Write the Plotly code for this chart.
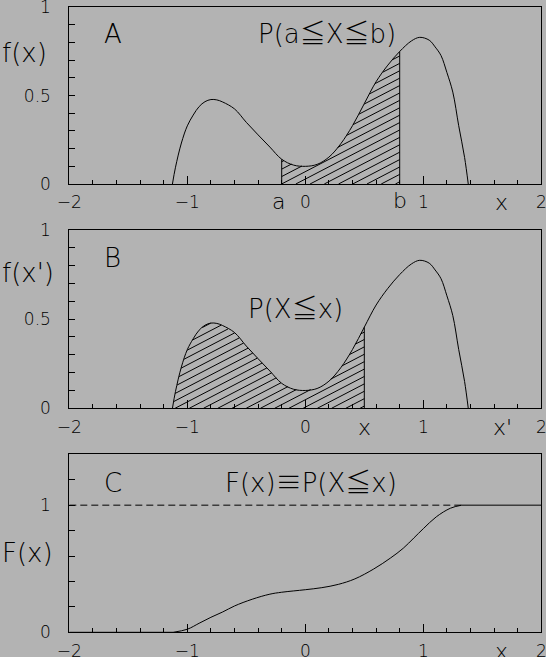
import numpy as np
import plotly.graph_objects as go

# ---------------- data ----------------
# probability density f(x) (panels A and B)
x_pdf = [-1.126, -1.1, -1.05, -1.0, -0.95, -0.9, -0.85, -0.8, -0.75, -0.7,
         -0.6, -0.5, -0.4, -0.3, -0.2, -0.1, 0.0, 0.1, 0.2, 0.3, 0.4, 0.5,
         0.6, 0.7, 0.8, 0.9, 0.97, 1.05, 1.1, 1.15, 1.2, 1.25, 1.3, 1.35, 1.381]
f_pdf = [0.0, 0.095, 0.232, 0.329, 0.390, 0.438, 0.466, 0.478, 0.476, 0.464,
         0.425, 0.349, 0.278, 0.209, 0.140, 0.107, 0.100, 0.111, 0.152, 0.227,
         0.330, 0.455, 0.579, 0.673, 0.750, 0.810, 0.830, 0.814, 0.776, 0.727,
         0.631, 0.520, 0.330, 0.150, 0.0]

# cumulative distribution F(x) (panel C)
x_cdf = [-1.12, -1.0, -0.9, -0.8, -0.7, -0.6, -0.45, -0.3, -0.2, 0.0, 0.14,
         0.28, 0.42, 0.58, 0.72, 0.83, 0.92, 1.0, 1.11, 1.23, 1.325]
F_cdf = [0.0, 0.024, 0.071, 0.118, 0.160, 0.207, 0.260, 0.300, 0.315, 0.335,
         0.351, 0.377, 0.420, 0.498, 0.583, 0.661, 0.742, 0.815, 0.908, 0.976, 1.0]

a_val, b_val = -0.2, 0.8      # limits of P(a<=X<=b)
x_cut = 0.5                   # upper limit of P(X<=x)
x_range = [-2, 2]

x_ticks = [-2, -1, 0, 1, 2]
y_ticks_ab = [0, 0.5, 1]
y_ticks_c = [0, 1]

# ---------------- layout geometry (pixels) ----------------
W, H = 546, 657
BG = "#b3b3b3"
X_L, X_R = 69.3, 541.3
PANELS = {"A": (7.3, 184.0), "B": (230.0, 408.3), "C": (454.3, 632.3)}
Y_RANGES = {"A": [0, 1], "B": [0, 1], "C": [0, 1.4]}
FONT = "DejaVu Sans, Noto Sans CJK JP, sans-serif"
WEIGHT = 200
SLOPE_PX = 0.52      # hatch slope in screen pixels
SPACING_PX = 7.4     # vertical spacing of hatch lines in pixels

ppx = (X_R - X_L) / (x_range[1] - x_range[0])


def ppy(p):
    top, bot = PANELS[p]
    return (bot - top) / (Y_RANGES[p][1] - Y_RANGES[p][0])


def hatch(x0, x1, panel):
    s = SLOPE_PX * ppx / ppy(panel)
    dc = SPACING_PX / ppy(panel)
    xs = np.linspace(x0, x1, 3000)
    fs = np.interp(xs, x_pdf, f_pdf)
    hx, hy = [], []
    c_start = -s * (x1 - x0)
    for c in np.arange(c_start + 0.3 * dc, max(f_pdf) + dc, dc):
        ys = s * (xs - x0) + c
        m = (ys >= 0) & (ys <= fs)
        if not m.any():
            continue
        idx = np.flatnonzero(m)
        runs = np.split(idx, np.flatnonzero(np.diff(idx) > 1) + 1)
        for r in runs:
            if len(r) < 2:
                continue
            hx += [xs[r[0]], xs[r[-1]], None]
            hy += [ys[r[0]], ys[r[-1]], None]
    return hx, hy


line = dict(color="black", width=1)
curve = dict(color="black", width=1, shape="spline", smoothing=1.0)
fig = go.Figure()

# ---- panel A ----
hx, hy = hatch(a_val, b_val, "A")
fig.add_trace(go.Scatter(x=hx, y=hy, mode="lines", line=line, xaxis="x", yaxis="y"))
fig.add_trace(go.Scatter(x=x_pdf, y=f_pdf, mode="lines", line=curve, xaxis="x", yaxis="y"))
for xv in (a_val, b_val):
    fig.add_trace(go.Scatter(x=[xv, xv], y=[0, float(np.interp(xv, x_pdf, f_pdf))],
                             mode="lines", line=line, xaxis="x", yaxis="y"))

# ---- panel B ----
hx, hy = hatch(x_pdf[0], x_cut, "B")
fig.add_trace(go.Scatter(x=hx, y=hy, mode="lines", line=line, xaxis="x2", yaxis="y2"))
fig.add_trace(go.Scatter(x=x_pdf, y=f_pdf, mode="lines", line=curve, xaxis="x2", yaxis="y2"))
fig.add_trace(go.Scatter(x=[x_cut, x_cut], y=[0, float(np.interp(x_cut, x_pdf, f_pdf))],
                         mode="lines", line=line, xaxis="x2", yaxis="y2"))

# ---- panel C ----
fig.add_trace(go.Scatter(x=[x_range[0], x_cdf[-1]], y=[F_cdf[-1], F_cdf[-1]], mode="lines",
                         line=dict(color="black", width=1, dash="7px,4px"),
                         xaxis="x3", yaxis="y3"))
fig.add_trace(go.Scatter(x=[x_range[0], x_cdf[0]], y=[F_cdf[0], F_cdf[0]], mode="lines",
                         line=line, xaxis="x3", yaxis="y3"))
fig.add_trace(go.Scatter(x=x_cdf, y=F_cdf, mode="lines", line=curve, xaxis="x3", yaxis="y3"))
fig.add_trace(go.Scatter(x=[x_cdf[-1], x_range[1]], y=[F_cdf[-1], F_cdf[-1]], mode="lines",
                         line=line, xaxis="x3", yaxis="y3"))

# ---------------- axes ----------------
xdom = [X_L / W, X_R / W]
tick_font = dict(family=FONT, size=17, color="black", weight=WEIGHT)


def xaxis(anchor):
    return dict(domain=xdom, anchor=anchor, range=x_range, tickvals=x_ticks,
                ticks="inside", ticklen=8, tickwidth=1, tickcolor="black",
                minor=dict(dtick=0.2, ticks="inside", ticklen=4, tickwidth=1, tickcolor="black"),
                showline=True, linecolor="black", linewidth=1, mirror=True,
                showgrid=False, zeroline=False, automargin=False,
                ticklabelstandoff=3, ticklabeloverflow="allow",
                tickfont=tick_font, fixedrange=True)


def yaxis(panel, anchor, tickvals, minor_dtick):
    top, bot = PANELS[panel]
    return dict(domain=[1 - bot / H, 1 - top / H], anchor=anchor, range=Y_RANGES[panel],
                tickvals=tickvals, ticks="inside", ticklen=6, tickwidth=1, tickcolor="black",
                minor=dict(dtick=minor_dtick, ticks="inside", ticklen=6, tickwidth=1,
                           tickcolor="black"),
                showline=True, linecolor="black", linewidth=1, mirror=True,
                showgrid=False, zeroline=False, automargin=False,
                ticklabelstandoff=14, ticklabeloverflow="allow",
                tickfont=tick_font, fixedrange=True)


big = dict(family=FONT, size=26, color="black", weight=WEIGHT)
mid = dict(family=FONT, size=22, color="black", weight=WEIGHT)
ann = []


def text(t, x, y, xref, yref, font, xanchor="center", yanchor="middle", yshift=0):
    ann.append(dict(text=t, x=x, y=y, xref=xref, yref=yref, showarrow=False, font=font,
                    xanchor=xanchor, yanchor=yanchor, yshift=yshift))


# panel letters and formulas
text("A", -1.63, 0.85, "x", "y", big)
text("P(a≦X≦b)", 0.186, 0.847, "x", "y", big)
text("B", -1.63, 0.843, "x2", "y2", big)
text("P(X≦x)", -0.085, 0.555, "x2", "y2", big)
text("C", -1.63, 1.178, "x3", "y3", big)
text("F(x)≡P(X≦x)", 0.045, 1.178, "x3", "y3", big)

# y titles
text("f(x)", 0, 0.74, "paper", "y", big, xanchor="left")
text("f(x')", 0, 0.759, "paper", "y2", big, xanchor="left")
text("F(x)", 0, 0.624, "paper", "y3", big, xanchor="left")

# letter labels under the x axes
text("a", a_val - 0.03, 0, "x", "y", mid, yshift=-18)
text("b", b_val, 0, "x", "y", mid, yshift=-17)
text("x", 1.663, 0, "x", "y", mid, yshift=-19)
text("x", x_cut, 0, "x2", "y2", mid, yshift=-19)
text("x'", 1.67, 0, "x2", "y2", mid, yshift=-19)
text("x", 1.663, 0, "x3", "y3", mid, yshift=-19)

fig.update_layout(
    width=W, height=H, margin=dict(l=0, r=0, t=0, b=0),
    paper_bgcolor=BG, plot_bgcolor=BG, showlegend=False,
    font=dict(family=FONT, color="black", weight=WEIGHT),
    xaxis=xaxis("y"), xaxis2=xaxis("y2"), xaxis3=xaxis("y3"),
    yaxis=yaxis("A", "x", y_ticks_ab, 0.1),
    yaxis2=yaxis("B", "x2", y_ticks_ab, 0.1),
    yaxis3=yaxis("C", "x3", y_ticks_c, 0.2),
    annotations=ann,
)

page_css = ("document.body.style.margin='0';document.body.style.padding='0';"
            "document.body.style.overflow='hidden';"
            "document.body.style.background='" + BG + "';")
fig.write_html("out.html", post_script=page_css, config={"displayModeBar": False})
